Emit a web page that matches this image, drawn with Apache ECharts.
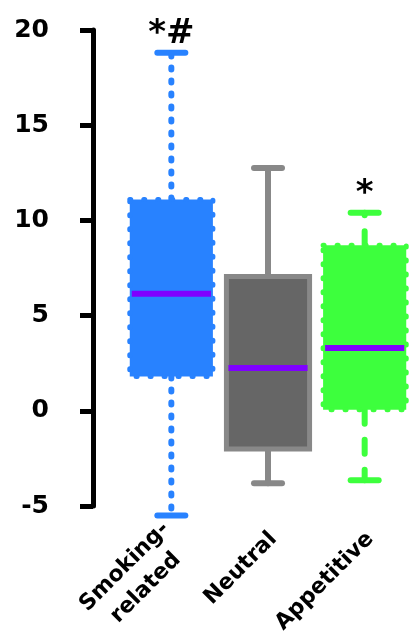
<!DOCTYPE html>
<html><head><meta charset="utf-8">
<script src="https://cdn.jsdelivr.net/npm/echarts@6/dist/echarts.min.js"></script>
<style>html,body{margin:0;padding:0;background:#fff}#c{width:409px;height:640px}</style>
</head><body><div id="c"></div>
<script>
const categories = ['Smoking-\nrelated', 'Neutral', 'Appetitive'];
const whiskerMin = [-5.5, -3.8, -3.65];
const q1 = [1.8, -2.0, 0.05];
const median = [6.15, 2.25, 3.3];
const q3 = [11.1, 7.05, 8.7];
const whiskerMax = [18.8, 12.75, 10.4];
const annotations = ['*#', '', '*'];
const yMin = -5, yMax = 20, yStep = 5;

const boxStyles = [
  {fill: '#2882FF', border: '#2882FF', borderDash: [1, 13], whisker: '#2882FF', whiskerDash: [2, 11]},
  {fill: '#666666', border: '#888888', borderDash: null, whisker: '#888888', whiskerDash: null},
  {fill: '#3DFF3D', border: '#3DFF3D', borderDash: [1, 13], whisker: '#3DFF3D', whiskerDash: [14, 16]}
];
const medianColor = '#7F00FF';
const FONT = '"DejaVu Sans", sans-serif';

const seriesData = categories.map((c, i) => [i, whiskerMin[i], q1[i], median[i], q3[i], whiskerMax[i]]);

function renderItem(params, api) {
  const i = params.dataIndex;
  const cx = api.coord([i, 0])[0];
  const yLo = api.coord([i, api.value(1)])[1];
  const yQ1 = api.coord([i, api.value(2)])[1];
  const yMed = api.coord([i, api.value(3)])[1];
  const yQ3 = api.coord([i, api.value(4)])[1];
  const yHi = api.coord([i, api.value(5)])[1];
  const band = api.size([1, 0])[0];
  const w = band * 0.86;
  const capHalf = 14;
  const s = boxStyles[i];
  const wStyle = {stroke: s.whisker, lineWidth: 6, lineCap: 'round', lineDash: s.whiskerDash || null, fill: null};
  const capStyle = {stroke: s.whisker, lineWidth: 6, lineCap: 'round', fill: null};
  const children = [
    {type: 'line', shape: {x1: cx, y1: yQ3, x2: cx, y2: yHi}, style: wStyle},
    {type: 'line', shape: {x1: cx, y1: yQ1, x2: cx, y2: yLo}, style: wStyle},
    {type: 'line', shape: {x1: cx - capHalf, y1: yHi, x2: cx + capHalf, y2: yHi}, style: capStyle},
    {type: 'line', shape: {x1: cx - capHalf, y1: yLo, x2: cx + capHalf, y2: yLo}, style: capStyle},
    {type: 'rect', shape: {x: cx - w / 2, y: yQ3, width: w, height: yQ1 - yQ3},
      style: {fill: s.fill, stroke: s.border, lineWidth: 5, lineCap: 'round', lineDash: s.borderDash || null}},
    {type: 'line', shape: {x1: cx - w / 2 + 2, y1: yMed, x2: cx + w / 2 - 2, y2: yMed},
      style: {stroke: medianColor, lineWidth: 6, fill: null}}
  ];
  if (annotations[i]) {
    children.push({type: 'text', x: cx, y: yHi - 2,
      style: {text: annotations[i], fill: '#000', font: 'bold 34px ' + FONT, textAlign: 'center', textVerticalAlign: 'bottom'}});
  }
  return {type: 'group', children};
}

const chart = echarts.init(document.getElementById('c'), null, {renderer: 'canvas'});
chart.setOption({
  animation: false,
  backgroundColor: '#fff',
  grid: {left: 123, width: 290, top: 30, bottom: 134, containLabel: false, outerBoundsMode: 'none'},
  xAxis: {
    type: 'category', data: categories,
    axisLine: {show: false}, axisTick: {show: false}, splitLine: {show: false},
    axisLabel: {
      rotate: 45, margin: 14, color: '#000', fontFamily: FONT, fontWeight: 'bold', fontSize: 22,
      interval: 0, padding: [30, 7, 0, 0],
      formatter: v => v.indexOf('\n') >= 0 ? v.split('\n').map(t => '{c|' + t + '}').join('\n') : v,
      rich: {c: {width: 118, align: 'center', fontFamily: FONT, fontWeight: 'bold', fontSize: 22, color: '#000', lineHeight: 30}}
    }
  },
  yAxis: {
    type: 'value', min: yMin, max: yMax, interval: yStep, offset: 30,
    axisLine: {show: true, lineStyle: {color: '#000', width: 5}},
    axisTick: {show: true, length: 13, lineStyle: {color: '#000', width: 5}},
    splitLine: {show: false},
    axisLabel: {color: '#000', fontFamily: FONT, fontWeight: 'bold', fontSize: 25, margin: 44}
  },
  series: [{type: 'custom', renderItem, data: seriesData, clip: false}]
});
</script></body></html>
